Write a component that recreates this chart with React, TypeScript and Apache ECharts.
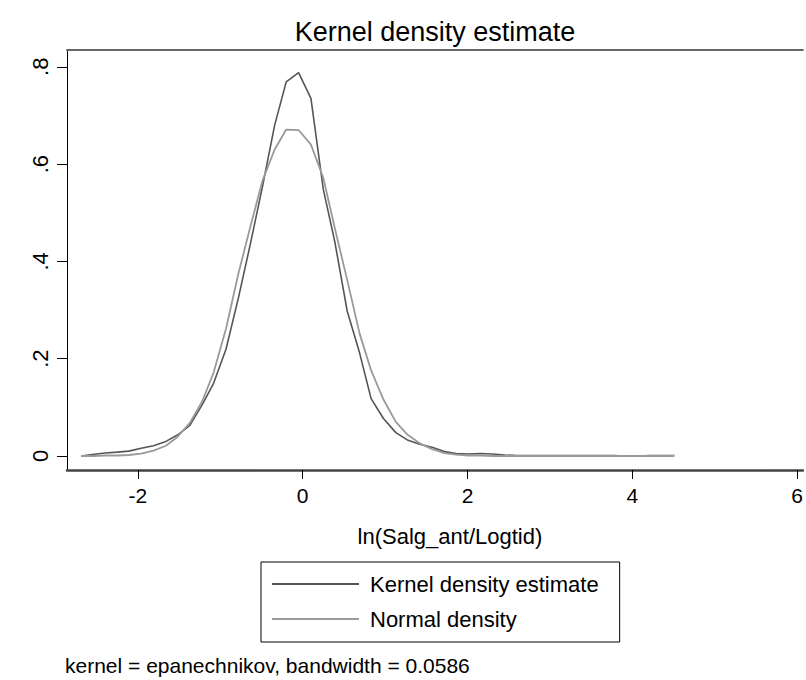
import React, { useEffect, useRef } from "react";
import * as echarts from "echarts";

const xGrid = [
  -2.69, -2.55, -2.40, -2.25, -2.11, -1.96, -1.81, -1.66, -1.52, -1.37,
  -1.22, -1.08, -0.93, -0.78, -0.64, -0.49, -0.34, -0.20, -0.05, 0.10,
  0.25, 0.39, 0.54, 0.69, 0.83, 0.98, 1.13, 1.27, 1.42, 1.57,
  1.72, 1.86, 2.01, 2.16, 2.30, 2.45, 2.60, 2.74, 2.89, 3.04,
  3.19, 3.33, 3.48, 3.63, 3.77, 3.92, 4.07, 4.21, 4.36, 4.51,
];

const kdeValues = [
  0.000, 0.003, 0.006, 0.008, 0.010, 0.016, 0.021, 0.030, 0.043, 0.063,
  0.105, 0.150, 0.220, 0.325, 0.432, 0.552, 0.680, 0.769, 0.788, 0.735,
  0.548, 0.440, 0.298, 0.212, 0.118, 0.077, 0.048, 0.033, 0.024, 0.018,
  0.009, 0.005, 0.004, 0.005, 0.004, 0.002, 0.001, 0.001, 0.001, 0.001,
  0.001, 0.001, 0.001, 0.001, 0.001, 0.000, 0.000, 0.001, 0.001, 0.001,
];

const normalValues = [
  0.000, 0.000, 0.001, 0.001, 0.002, 0.005, 0.011, 0.021, 0.039, 0.068,
  0.112, 0.172, 0.262, 0.375, 0.468, 0.565, 0.630, 0.671, 0.670, 0.640,
  0.572, 0.468, 0.362, 0.252, 0.176, 0.116, 0.070, 0.044, 0.026, 0.014,
  0.006, 0.003, 0.001, 0.001, 0.000, 0.000, 0.000, 0.000, 0.000, 0.000,
  0.000, 0.000, 0.000, 0.000, 0.000, 0.000, 0.000, 0.000, 0.000, 0.000,
];

const xTicks = [-2, 0, 2, 4, 6];
const yTicks = [0, 0.2, 0.4, 0.6, 0.8];

const titleText = "Kernel density estimate";
const xAxisName = "ln(Salg_ant/Logtid)";
const seriesNames = ["Kernel density estimate", "Normal density"];
const noteText = "kernel = epanechnikov, bandwidth = 0.0586";

const FONT = "'Liberation Sans', Arial, sans-serif";

export default function App() {
  const ref = useRef<HTMLDivElement>(null);

  useEffect(() => {
    if (!ref.current) return;
    const chart = echarts.init(ref.current, undefined, { renderer: "svg" });
    const kdeData = xGrid.map((x, i) => [x, kdeValues[i]]);
    const normData = xGrid.map((x, i) => [x, normalValues[i]]);

    chart.setOption({
      animation: false,
      backgroundColor: "#ffffff",
      textStyle: { fontFamily: FONT },
      title: [
        {
          text: titleText,
          left: 430,
          top: 13,
          textAlign: "center",
          textStyle: { fontFamily: FONT, fontSize: 27, fontWeight: "normal", color: "#000" },
        },
        {
          text: noteText,
          left: 60,
          top: 650,
          textStyle: { fontFamily: FONT, fontSize: 21, fontWeight: "normal", color: "#000" },
        },
      ],
      legend: {
        left: 261,
        top: 562,
        orient: "vertical",
        itemWidth: 87,
        itemHeight: 14,
        itemGap: 13,
        padding: [11, 21, 12, 10],
        borderColor: "#000",
        borderWidth: 1,
        itemStyle: { opacity: 0 },
        textStyle: { fontFamily: FONT, fontSize: 22, color: "#000", padding: [0, 0, 0, 6] },
        data: seriesNames,
      },
      grid: { left: 67, top: 50, width: 741, height: 420 },
      xAxis: [
        {
          type: "value",
          min: -2.86,
          max: 6.07,
          name: xAxisName,
          nameLocation: "middle",
          nameGap: 55,
          nameTextStyle: { fontFamily: FONT, fontSize: 22, color: "#000", padding: [0, 0, 0, 30] },
          axisLine: { show: true, onZero: false, lineStyle: { color: "#444", width: 2.5 } },
          axisTick: { show: true, length: 9, customValues: xTicks, lineStyle: { color: "#000", width: 1 } },
          axisLabel: {
            customValues: xTicks,
            fontFamily: FONT,
            fontSize: 21,
            color: "#000",
            margin: 15,
            formatter: (v: number) => String(v),
          },
          splitLine: { show: false },
        },
        {
          type: "value",
          position: "top",
          min: -2.86,
          max: 6.07,
          axisLine: { show: true, onZero: false, lineStyle: { color: "#666", width: 2 } },
          axisTick: { show: false },
          axisLabel: { show: false },
          splitLine: { show: false },
        },
      ],
      yAxis: {
        type: "value",
        min: -0.0288,
        max: 0.8345,
        axisLine: { show: true, onZero: false, lineStyle: { color: "#000", width: 1 } },
        axisTick: { show: true, length: 10, customValues: yTicks, lineStyle: { color: "#000", width: 1 } },
        axisLabel: {
          customValues: yTicks,
          rotate: 90,
          fontFamily: FONT,
          fontSize: 22,
          color: "#000",
          margin: 16,
          formatter: (v: number) => (v === 0 ? "0" : String(Math.round(v * 10) / 10).replace("0.", ".")),
        },
        splitLine: { show: false },
      },
      series: [
        {
          name: seriesNames[0],
          type: "line",
          data: kdeData,
          symbol: "none",
          lineStyle: { color: "#555555", width: 1.6 },
          itemStyle: { color: "#555555" },
        },
        {
          name: seriesNames[1],
          type: "line",
          data: normData,
          symbol: "none",
          lineStyle: { color: "#9a9a9a", width: 1.8 },
          itemStyle: { color: "#9a9a9a" },
        },
      ],
    });

    return () => chart.dispose();
  }, []);

  return (
    <div
      ref={ref}
      style={{ position: "fixed", left: 0, top: 0, width: 806, height: 680, background: "#fff" }}
    />
  );
}
